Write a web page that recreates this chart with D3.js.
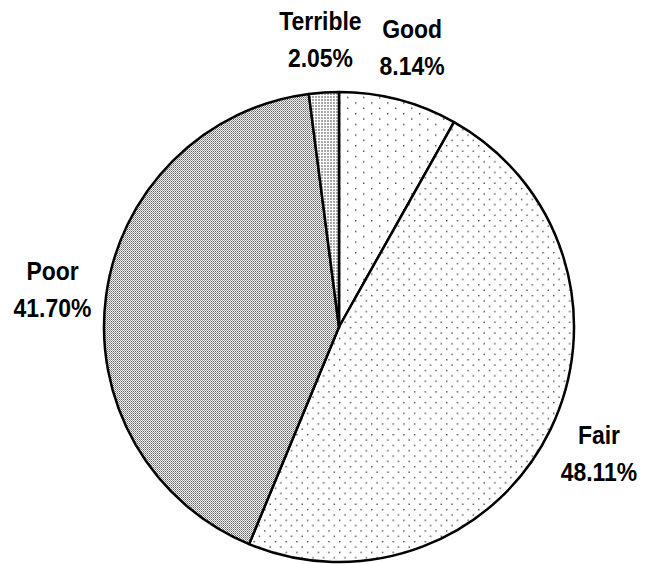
<!DOCTYPE html>
<html>
<head>
<meta charset="utf-8">
<script src="https://cdn.jsdelivr.net/npm/d3@7"></script>
<style>
    body { margin: 0; background: #fff; }
    .label { font-family: "Liberation Sans", Arial, sans-serif; font-weight: bold; font-size: 25.5px; fill: #000; }
</style>
</head>
<body>
<div class="chart"></div>
<script>
// DATA ------------------------------------
const categories = ['Good', 'Fair', 'Poor', 'Terrible'];
const values = [8.14, 48.11, 41.70, 2.05];
const pctLabels = ['8.14%', '48.11%', '41.70%', '2.05%'];
const patterns = ['pat-good', 'pat-fair', 'pat-poor', 'pat-terrible'];

// CHART INIT ------------------------------
const width = 645,
    height = 564,
    cx = 339,
    cy = 327,
    radius = 235,
    labelRadius = 289;

let svg = d3
    .select('.chart')
    .append('svg')
    .attr('width', width)
    .attr('height', height);

// fill patterns (dots and fine screens)
const defs = svg.append('defs');

function dotPattern(id, w, h) {
    const p = defs.append('pattern')
        .attr('id', id)
        .attr('patternUnits', 'userSpaceOnUse')
        .attr('width', w)
        .attr('height', h);
    p.append('rect').attr('width', w).attr('height', h).attr('fill', '#fff');
    p.append('rect').attr('x', 0).attr('y', 0).attr('width', 1.4).attr('height', 1.4).attr('fill', '#444');
    p.append('rect').attr('x', w / 2).attr('y', h / 2).attr('width', 1.4).attr('height', 1.4).attr('fill', '#444');
}
dotPattern('pat-good', 16, 10.7);
dotPattern('pat-fair', 10.7, 10.7);

let poor = defs.append('pattern')
    .attr('id', 'pat-poor')
    .attr('patternUnits', 'userSpaceOnUse')
    .attr('width', 2)
    .attr('height', 2);
poor.append('rect').attr('width', 2).attr('height', 2).attr('fill', '#f2f2f2');
poor.append('rect').attr('width', 1).attr('height', 1).attr('fill', '#666');
poor.append('rect').attr('x', 1).attr('y', 1).attr('width', 1).attr('height', 1).attr('fill', '#999');

let terrible = defs.append('pattern')
    .attr('id', 'pat-terrible')
    .attr('patternUnits', 'userSpaceOnUse')
    .attr('width', 3)
    .attr('height', 3);
terrible.append('rect').attr('width', 3).attr('height', 3).attr('fill', '#fff');
terrible.append('rect').attr('width', 2).attr('height', 2).attr('fill', '#a8a8a8');

const group = svg
    .append('g')
    .attr('transform', 'translate(' + cx + ',' + cy + ')');

// PIE -------------------------------------
const data = categories.map((c, i) => ({ name: c, value: values[i], pct: pctLabels[i], pattern: patterns[i] }));

const pie = d3.pie()
    .sort(null)
    .value(d => d.value);

const arc = d3.arc()
    .innerRadius(0)
    .outerRadius(radius);

const labelArc = d3.arc()
    .innerRadius(labelRadius)
    .outerRadius(labelRadius);

const arcs = pie(data);

group.selectAll('path.slice')
    .data(arcs)
    .enter()
    .append('path')
    .attr('class', 'slice')
    .attr('d', arc)
    .attr('fill', d => 'url(#' + d.data.pattern + ')')
    .attr('stroke', '#000')
    .attr('stroke-width', 2.5)
    .attr('stroke-linejoin', 'round');

// LABELS ----------------------------------
// condensed look: squeeze the bold sans horizontally
let labels = group.selectAll('text.label')
    .data(arcs)
    .enter()
    .append('text')
    .attr('class', 'label')
    .attr('text-anchor', 'middle')
    .attr('transform', d => 'translate(' + labelArc.centroid(d) + ') scale(0.9,1)');

labels.append('tspan')
    .attr('x', 0)
    .attr('y', -9)
    .text(d => d.data.name);

labels.append('tspan')
    .attr('x', 0)
    .attr('y', 28)
    .text(d => d.data.pct);
</script>
</body>
</html>
